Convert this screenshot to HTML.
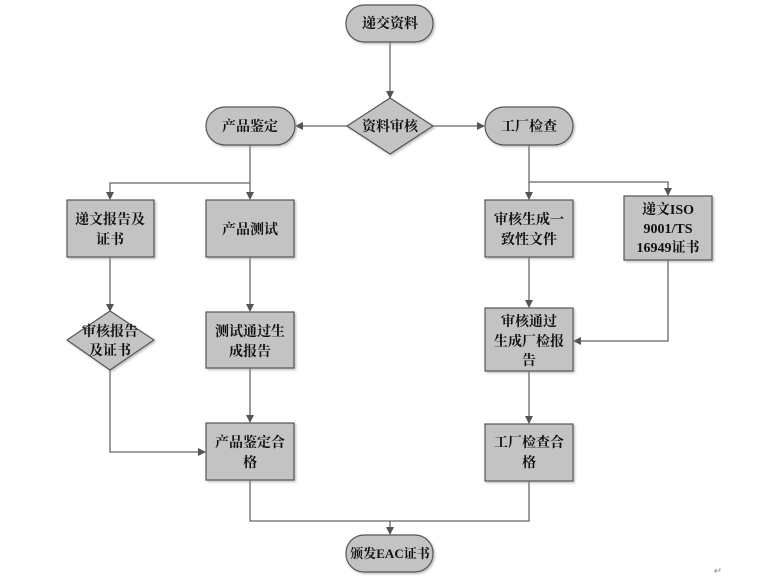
<!DOCTYPE html>
<html><head><meta charset="utf-8"><style>
body{margin:0;background:#fff;}
svg text{font-family:"Liberation Serif","Noto Serif CJK SC",serif;font-weight:bold;font-size:14px;fill:#111;text-anchor:middle;}
</style></head><body>
<svg width="772" height="577" viewBox="0 0 772 577" xmlns="http://www.w3.org/2000/svg">
<defs><marker id="a" markerWidth="8" markerHeight="8" refX="7" refY="4" orient="auto" markerUnits="userSpaceOnUse"><path d="M0,0 L8,4 L0,8z" fill="#555"/></marker>
<filter id="s" x="-10%" y="-10%" width="130%" height="130%"><feDropShadow dx="1.5" dy="1.5" stdDeviation="1" flood-color="#999" flood-opacity="0.6"/></filter></defs>
<g stroke="#666" stroke-width="1.3" fill="none" marker-end="url(#a)">
<path d="M390 42 V98"/>
<path d="M347 126 H296"/>
<path d="M433 126 H484"/>
<path d="M250 145 V199"/>
<path d="M250 183 H110 V199"/>
<path d="M529 145 V199"/>
<path d="M529 182 H668 V195"/>
<path d="M110 257 V311"/>
<path d="M250 257 V311"/>
<path d="M110 370 V452 H205"/>
<path d="M250 368 V422"/>
<path d="M529 257 V307"/>
<path d="M668 260 V341 H574"/>
<path d="M529 371 V423"/>
<path d="M390 521 V534"/>
</g>
<path d="M250 480 V521 H529 V481" stroke="#666" stroke-width="1.3" fill="none"/>
<g fill="#c3c3c3" stroke="#555" stroke-width="1.2" filter="url(#s)">
<rect x="346" y="5" width="87" height="37" rx="18"/>
<rect x="206" y="107" width="89" height="38" rx="19"/>
<rect x="485" y="107" width="88" height="38" rx="19"/>
<rect x="346" y="535" width="87" height="37" rx="18"/>
<polygon points="390,98 433,126 390,154 347,126"/>
<polygon points="110,311 154,340 110,370 67,340"/>
<rect x="67" y="200" width="87" height="57"/>
<rect x="206" y="200" width="88" height="57"/>
<rect x="206" y="312" width="88" height="56"/>
<rect x="206" y="423" width="88" height="57"/>
<rect x="485" y="200" width="88" height="57"/>
<rect x="624" y="196" width="88" height="64"/>
<rect x="485" y="308" width="88" height="63"/>
<rect x="485" y="424" width="88" height="57"/>
</g>
<text x="390" y="28">递交资料</text>
<text x="250" y="131">产品鉴定</text>
<text x="529" y="131">工厂检查</text>
<text x="390" y="131">资料审核</text>
<text x="390" y="558" style="font-size:13px">颁发EAC证书</text>
<text x="110" y="224">递文报告及</text><text x="110" y="244">证书</text>
<text x="250" y="234">产品测试</text>
<text x="110" y="336">审核报告</text><text x="110" y="355">及证书</text>
<text x="250" y="336">测试通过生</text><text x="250" y="356">成报告</text>
<text x="250" y="447">产品鉴定合</text><text x="250" y="467">格</text>
<text x="529" y="224">审核生成一</text><text x="529" y="244">致性文件</text>
<text x="668" y="214">递文ISO</text><text x="668" y="233">9001/TS</text><text x="668" y="252">16949证书</text>
<text x="529" y="326">审核通过</text><text x="529" y="346">生成厂检报</text><text x="529" y="365">告</text>
<text x="529" y="447">工厂检查合</text><text x="529" y="467">格</text>
<text x="718" y="574" style="font-size:10px;font-weight:normal;fill:#888">↵</text>
</svg>
</body></html>
